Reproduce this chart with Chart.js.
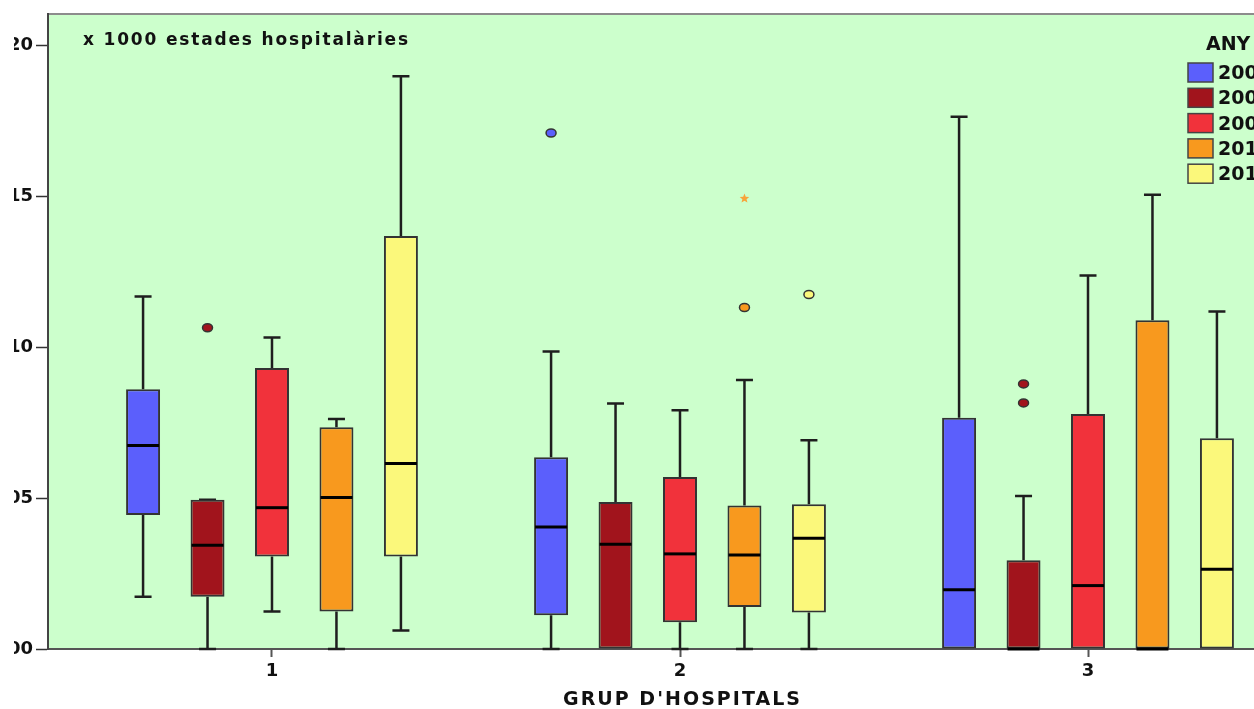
<!DOCTYPE html>
<html>
<head>
<meta charset="utf-8">
<script src="https://cdn.jsdelivr.net/npm/chart.js@4.4.1/dist/chart.umd.min.js"></script>
<style>
  html, body { margin: 0; padding: 0; background: #fff; overflow: hidden; width: 1254px; height: 709px; }
  #wrap { position: absolute; left: 14px; top: 0; width: 1320px; height: 709px; }
</style>
</head>
<body>
<div id="wrap"><canvas id="c" width="1320" height="709"></canvas></div>
<script>
// Hospital groups on the x axis and survey years as series
const groups = [1, 2, 3];
const years = ['2007', '2008', '2009', '2010', '2011'];
const yTicks = [0, 5, 10, 15, 20];

// Box-plot statistics, one row per year, one column per hospital group
const lowerWhisker = [
  [1.73, 0.00, 0.00],
  [0.00, 0.00, 0.00],
  [1.24, 0.00, 0.00],
  [0.00, 0.00, 0.00],
  [0.61, 0.00, 0.00]
];
const lowerQuartile = [
  [4.44, 1.12, 0.00],
  [1.73, 0.00, 0.00],
  [3.06, 0.89, 0.00],
  [1.24, 1.39, 0.00],
  [3.06, 1.21, 0.00]
];
const medians = [
  [6.74, 4.04, 1.96],
  [3.44, 3.47, 0.00],
  [4.68, 3.15, 2.10],
  [5.02, 3.11, 0.00],
  [6.14, 3.67, 2.64]
];
const upperQuartile = [
  [8.60, 6.35, 7.66],
  [4.94, 4.87, 2.94],
  [9.31, 5.70, 7.78],
  [7.34, 4.75, 10.89],
  [13.68, 4.79, 6.98]
];
const upperWhisker = [
  [11.67, 9.85, 17.63],
  [4.94, 8.13, 5.07],
  [10.32, 7.91, 12.37],
  [7.62, 8.91, 15.04],
  [18.97, 6.91, 11.18]
];
// Outliers (circles) and extreme values (stars)
const outliers = [
  [[], [17.09], []],
  [[10.64], [], [8.78, 8.15]],
  [[], [], []],
  [[], [11.31], []],
  [[], [11.74], []]
];
const extremes = [
  [[], [], []],
  [[], [], []],
  [[], [], []],
  [[], [14.92], []],
  [[], [], []]
];

const yearColors = ['#5b5ffc', '#a1141c', '#f1323b', '#f8991e', '#fbf87b'];
const PLOT_BG = '#ccffcc';
const CAP = 17;

Chart.defaults.font.family = "'DejaVu Sans', sans-serif";
Chart.defaults.font.weight = 'bold';
Chart.defaults.color = '#111';

function spacedText(ctx, text, x, y, width) {
  ctx.letterSpacing = '0px';
  const w = ctx.measureText(text).width;
  ctx.letterSpacing = ((width - w) / (text.length - 1)) + 'px';
  ctx.fillText(text, x, y);
  ctx.letterSpacing = '0px';
}

const boxParts = {
  id: 'boxParts',
  beforeDraw(chart) {
    const { ctx, chartArea: a } = chart;
    ctx.save();
    ctx.fillStyle = PLOT_BG;
    ctx.fillRect(a.left, a.top, a.right - a.left, a.bottom - a.top);
    ctx.strokeStyle = '#8c8c8c';
    ctx.lineWidth = 2;
    ctx.beginPath();
    ctx.moveTo(a.left, a.top);
    ctx.lineTo(a.right, a.top);
    ctx.stroke();
    ctx.restore();
  },
  beforeDatasetsDraw(chart) {
    const { ctx } = chart;
    const y = chart.scales.y;
    ctx.save();
    ctx.strokeStyle = '#1e1e1e';
    ctx.lineWidth = 2.5;
    years.forEach((yr, di) => {
      chart.getDatasetMeta(di).data.forEach((bar, gi) => {
        const x = bar.x;
        const lo = y.getPixelForValue(lowerWhisker[di][gi]);
        const q1 = y.getPixelForValue(lowerQuartile[di][gi]);
        const q3 = y.getPixelForValue(upperQuartile[di][gi]);
        const hi = y.getPixelForValue(upperWhisker[di][gi]);
        ctx.beginPath();
        if (hi <= q3) {
          ctx.moveTo(x, q3); ctx.lineTo(x, hi);
          ctx.moveTo(x - CAP / 2, hi); ctx.lineTo(x + CAP / 2, hi);
        }
        if (lo > q1) {
          ctx.moveTo(x, q1); ctx.lineTo(x, lo);
          ctx.moveTo(x - CAP / 2, lo); ctx.lineTo(x + CAP / 2, lo);
        }
        ctx.stroke();
      });
    });
    ctx.restore();
  },
  afterDatasetsDraw(chart) {
    const { ctx } = chart;
    const y = chart.scales.y;
    ctx.save();
    years.forEach((yr, di) => {
      chart.getDatasetMeta(di).data.forEach((bar, gi) => {
        const x = bar.x;
        const half = bar.width / 2;
        // median
        const m = y.getPixelForValue(medians[di][gi]);
        ctx.strokeStyle = '#000';
        ctx.lineWidth = 3;
        ctx.beginPath();
        ctx.moveTo(x - half + 1, m); ctx.lineTo(x + half - 1, m);
        ctx.stroke();
        // outliers
        outliers[di][gi].forEach(v => {
          const py = y.getPixelForValue(v);
          ctx.beginPath();
          ctx.ellipse(x, py, 5, 4, 0, 0, Math.PI * 2);
          ctx.fillStyle = yearColors[di];
          ctx.fill();
          ctx.lineWidth = 1.5;
          ctx.strokeStyle = '#333';
          ctx.stroke();
        });
        // extreme values
        extremes[di][gi].forEach(v => {
          const py = y.getPixelForValue(v);
          ctx.beginPath();
          for (let k = 0; k < 10; k++) {
            const r = k % 2 === 0 ? 5 : 2.2;
            const ang = -Math.PI / 2 + k * Math.PI / 5;
            const px = x + r * Math.cos(ang), qy = py + r * Math.sin(ang);
            if (k === 0) ctx.moveTo(px, qy); else ctx.lineTo(px, qy);
          }
          ctx.closePath();
          ctx.fillStyle = '#f7a43a';
          ctx.fill();
        });
      });
    });
    ctx.restore();
  },
  afterDraw(chart) {
    const { ctx } = chart;
    ctx.save();
    ctx.fillStyle = '#111';
    ctx.textBaseline = 'alphabetic';
    ctx.textAlign = 'left';
    // scale note
    ctx.font = "bold 17px 'DejaVu Sans'";
    spacedText(ctx, 'x 1000 estades hospitalàries', 69, 45, 325);
    // x axis title
    ctx.font = "bold 19px 'DejaVu Sans'";
    spacedText(ctx, "GRUP D'HOSPITALS", 549, 705, 237);
    // legend
    ctx.font = "bold 19px 'DejaVu Sans'";
    ctx.fillText('ANY', 1192, 50);
    years.forEach((yr, i) => {
      const top = 63 + i * 25.3;
      ctx.fillStyle = yearColors[i];
      ctx.fillRect(1174, top, 25, 19);
      ctx.strokeStyle = '#444';
      ctx.lineWidth = 1.5;
      ctx.strokeRect(1174, top, 25, 19);
      ctx.fillStyle = '#111';
      ctx.fillText(yr, 1204, top + 16);
    });
    ctx.restore();
  }
};

const datasets = years.map((yr, di) => ({
  label: yr,
  data: groups.map((g, gi) => ({ x: g, y: [lowerQuartile[di][gi], upperQuartile[di][gi]] })),
  backgroundColor: yearColors[di],
  borderColor: '#333',
  borderWidth: 2,
  borderSkipped: false
}));

new Chart(document.getElementById('c'), {
  type: 'bar',
  data: { datasets },
  options: {
    responsive: false,
    animation: false,
    layout: { padding: { top: 14, right: 22, left: 0, bottom: 0 } },
    plugins: { legend: { display: false }, tooltip: { enabled: false } },
    datasets: { bar: { categoryPercentage: 0.79, barPercentage: 0.527, grouped: true } },
    scales: {
      x: {
        type: 'linear',
        min: 0.451,
        max: 3.549,
        offset: false,
        afterBuildTicks: s => { s.ticks = groups.map(v => ({ value: v })); },
        afterFit: s => { s.height = 60; },
        grid: { offset: false, drawOnChartArea: false, drawTicks: true, tickLength: 8, tickColor: '#555', tickWidth: 2 },
        border: { color: '#555', width: 2 },
        ticks: { font: { size: 18, weight: 'bold' }, color: '#111', padding: 4, maxRotation: 0, callback: v => String(v) }
      },
      y: {
        min: 0,
        max: 21.03,
        afterBuildTicks: s => { s.ticks = yTicks.map(v => ({ value: v })); },
        afterFit: s => { s.width = 34; },
        grid: { drawOnChartArea: false, drawTicks: true, tickLength: 12, tickColor: '#333', tickWidth: 1.5 },
        border: { color: '#444', width: 2 },
        ticks: { font: { size: 18, weight: 'bold' }, color: '#111', padding: 3, callback: v => String(v).padStart(2, '0') }
      }
    }
  },
  plugins: [boxParts]
});
</script>
</body>
</html>
